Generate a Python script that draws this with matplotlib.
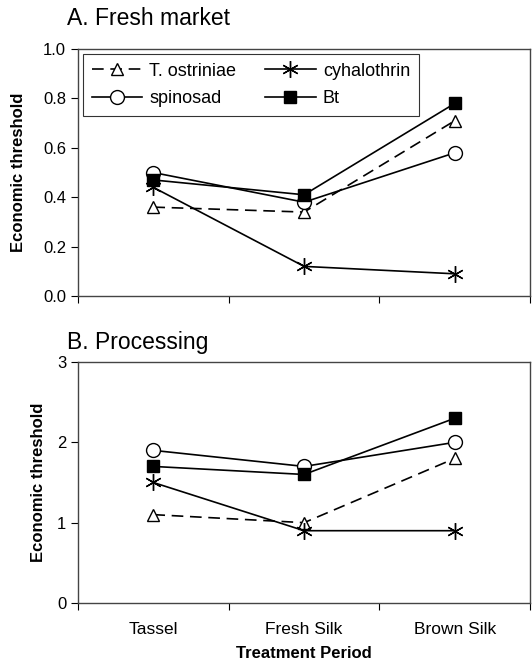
import matplotlib.pyplot as plt
import numpy as np

plt.rcParams["font.family"] = ["Liberation Sans", "DejaVu Sans"]

periods = ["Tassel", "Fresh Silk", "Brown Silk"]

# Panel A: fresh market
fresh_tost = [0.36, 0.34, 0.71]
fresh_cyh = [0.44, 0.12, 0.09]
fresh_spin = [0.50, 0.38, 0.58]
fresh_bt = [0.47, 0.41, 0.78]

# Panel B: processing
proc_tost = [1.1, 1.0, 1.8]
proc_cyh = [1.5, 0.9, 0.9]
proc_spin = [1.9, 1.7, 2.0]
proc_bt = [1.7, 1.6, 2.3]

x = np.arange(len(periods)) + 0.5

styles = {
    "T. ostriniae": dict(linestyle=(0, (7, 4)), marker="^", mfc="white", ms=9),
    "cyhalothrin": dict(linestyle="-", marker=(6, 2, 0), mfc="black", ms=12, mew=1.0),
    "spinosad": dict(linestyle="-", marker="o", mfc="white", ms=10),
    "Bt": dict(linestyle="-", marker="s", mfc="black", ms=8.5),
}

fig = plt.figure(figsize=(5.32, 6.63), dpi=100)
axA = fig.add_axes([0.1466, 0.5535, 0.85, 0.3725])
axB = fig.add_axes([0.1466, 0.0905, 0.85, 0.3635])


def draw(ax, series, pad):
    lines = {}
    for name, vals in series.items():
        st = styles[name]
        lines[name], = ax.plot(x, vals, color="black", lw=1.2, mec="black",
                               label=name, **st)
    ax.set_xlim(0, 3)
    ax.set_xticks([0, 1, 2, 3])
    ax.set_xticklabels([])
    ax.set_xticks(x, minor=True)
    ax.tick_params(axis="x", which="minor", length=0, pad=14)
    ax.tick_params(axis="x", which="major", length=5, direction="out")
    ax.tick_params(axis="y", length=5, direction="out", labelsize=12)
    for s in ax.spines.values():
        s.set_linewidth(1.0)
        s.set_color("#444444")
    ax.set_ylabel("Economic threshold", fontsize=12, fontweight="bold", labelpad=pad)
    return lines


linesA = draw(axA, {"T. ostriniae": fresh_tost, "cyhalothrin": fresh_cyh,
                    "spinosad": fresh_spin, "Bt": fresh_bt}, 12)
axA.set_ylim(0, 1.0)
axA.set_yticks(np.arange(0, 1.01, 0.2))
axA.set_yticklabels([f"{v:.1f}" for v in np.arange(0, 1.01, 0.2)])
order = ["T. ostriniae", "spinosad", "cyhalothrin", "Bt"]
leg = axA.legend([linesA[k] for k in order], order, loc="upper left", ncol=2,
                 fontsize=13, frameon=True, fancybox=False, edgecolor="black",
                 handlelength=2.8, borderaxespad=0.25, columnspacing=1.6,
                 handletextpad=0.4, labelspacing=0.6, borderpad=0.5)
leg.get_frame().set_linewidth(0.8)
axA.text(-0.025, 1.125, "A. Fresh market", transform=axA.transAxes,
         fontsize=16.5, va="center", ha="left")

draw(axB, {"T. ostriniae": proc_tost, "cyhalothrin": proc_cyh,
           "spinosad": proc_spin, "Bt": proc_bt}, 8)
axB.set_ylim(0, 3)
axB.set_yticks([0, 1, 2, 3])
axB.set_xticklabels(periods, minor=True, fontsize=12.5)
axB.set_xlabel("Treatment Period", fontsize=12, fontweight="bold", labelpad=6)
axB.text(-0.025, 1.08, "B. Processing", transform=axB.transAxes,
         fontsize=16.5, va="center", ha="left")

plt.savefig("out.png", dpi=100)
